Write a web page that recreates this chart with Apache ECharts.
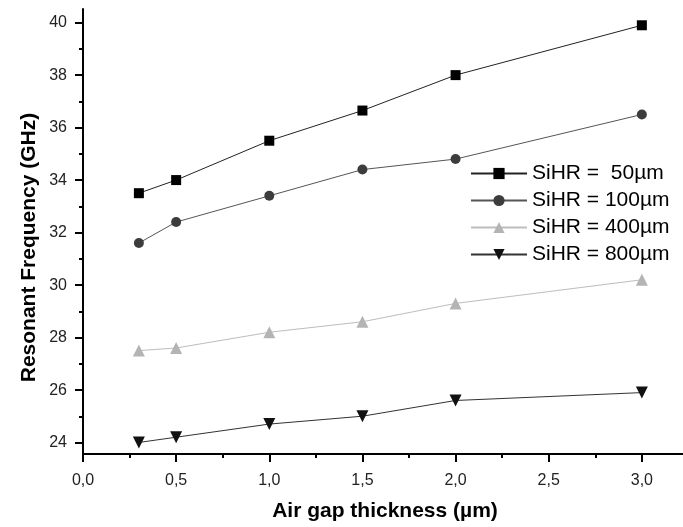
<!DOCTYPE html>
<html>
<head>
<meta charset="utf-8">
<script src="https://cdn.jsdelivr.net/npm/echarts@6/dist/echarts.min.js"></script>
<style>
html, body { margin: 0; padding: 0; background: #fff; }
#main { width: 683px; height: 527px; }
</style>
</head>
<body>
<div id="main"></div>
<script>
// air gap thickness (µm)
var gaps = [0.3, 0.5, 1.0, 1.5, 2.0, 3.0];
// resonant frequency (GHz) for each SiHR thickness
var f50 = [33.5, 34.0, 35.5, 36.65, 38.0, 39.9];
var f100 = [31.6, 32.4, 33.4, 34.4, 34.8, 36.5];
var f400 = [27.5, 27.6, 28.2, 28.6, 29.3, 30.2];
var f800 = [24.0, 24.2, 24.7, 25.0, 25.6, 25.9];
var names = ['SiHR =  50µm', 'SiHR = 100µm', 'SiHR = 400µm', 'SiHR = 800µm'];

var font = '"Liberation Sans", Arial, sans-serif';
var chart = echarts.init(document.getElementById('main'));

function pairs(ys) {
	return gaps.map(function(x, i) {
		return [x, ys[i]];
	});
}

function mkSeries(name, ys, symbol, size, symColor, lineColor, rotate) {
	return {
		name: name,
		type: 'line',
		xAxisIndex: 0,
		yAxisIndex: 0,
		data: pairs(ys),
		symbol: symbol,
		symbolSize: size,
		symbolRotate: rotate || 0,
		showAllSymbol: true,
		itemStyle: { color: symColor },
		lineStyle: { color: lineColor, width: 1 },
		emphasis: { disabled: true },
		animation: false,
		z: 3
	};
}

chart.setOption({
	backgroundColor: '#fff',
	animation: false,
	grid: [
		// plot area (x runs past the right edge so 3,25 etc. are off canvas)
		{ left: 83, top: 9, right: -52, bottom: 73, outerBoundsMode: 'none', containLabel: false },
		// tick grid for the y axis: 24 .. 42 on the same pixel scale
		{ left: 83, top: -29.8, right: -52, bottom: 84.3, outerBoundsMode: 'none', containLabel: false }
	],
	legend: {
		orient: 'vertical',
		left: 465,
		top: 158,
		itemWidth: 56,
		itemHeight: 14,
		itemGap: 6,
		textStyle: { fontFamily: font, fontSize: 21, color: '#000', padding: [0, 0, 0, 0] },
		data: names
	},
	xAxis: [{
		type: 'value',
		gridIndex: 0,
		min: 0,
		max: 3.5,
		interval: 0.5,
		name: 'Air gap thickness (µm)',
		nameLocation: 'middle',
		nameGap: 47,
		nameTextStyle: { fontFamily: font, fontSize: 21, fontWeight: 'bold', color: '#000', padding: [0, 48, 0, 0] },
		axisLine: { onZero: false, lineStyle: { color: '#000', width: 2 } },
		axisTick: { inside: false, length: 8, lineStyle: { color: '#000', width: 2 } },
		minorTick: { show: true, splitNumber: 2, length: 4, lineStyle: { color: '#000', width: 2 } },
		axisLabel: {
			fontFamily: font, fontSize: 16, color: '#222', margin: 19,
			formatter: function(v) { return v.toFixed(1).replace('.', ','); }
		},
		splitLine: { show: false }
	}, {
		type: 'value',
		gridIndex: 1,
		min: 0,
		max: 3.5,
		show: false
	}],
	yAxis: [{
		type: 'value',
		gridIndex: 0,
		min: 23.56,
		max: 40.52,
		name: 'Resonant Frequency (GHz)',
		nameLocation: 'middle',
		nameGap: 43,
		nameTextStyle: { fontFamily: font, fontSize: 21, fontWeight: 'bold', color: '#000', padding: [0, 32, 0, 0] },
		axisLine: { onZero: false, lineStyle: { color: '#000', width: 2 } },
		axisTick: { show: false },
		axisLabel: { show: false },
		splitLine: { show: false }
	}, {
		type: 'value',
		gridIndex: 1,
		min: 24,
		max: 42,
		interval: 2,
		axisLine: { show: false },
		axisTick: { inside: false, length: 8, lineStyle: { color: '#000', width: 2 } },
		minorTick: { show: true, splitNumber: 2, length: 4, lineStyle: { color: '#000', width: 2 } },
		axisLabel: { fontFamily: font, fontSize: 16, color: '#222', margin: 16 },
		splitLine: { show: false }
	}],
	series: [
		mkSeries(names[0], f50, 'rect', 10, '#000', '#222'),
		mkSeries(names[1], f100, 'circle', 10, '#3c3c3c', '#555'),
		mkSeries(names[2], f400, 'triangle', 12, '#b4b4b4', '#bdbdbd'),
		mkSeries(names[3], f800, 'triangle', 12, '#111', '#333', 180)
	]
});
</script>
</body>
</html>
